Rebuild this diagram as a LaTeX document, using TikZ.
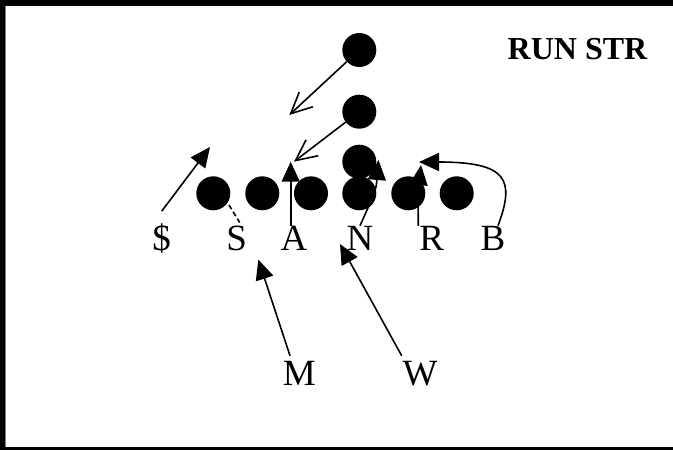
\documentclass[tikz,border=0pt]{standalone}
\usepackage{fontspec}
\setmainfont{Liberation Serif}
\usetikzlibrary{arrows.meta}
\begin{document}
\begin{tikzpicture}[x=1pt,y=-1pt,
  player/.style={circle,fill=black,minimum size=34pt,inner sep=0pt},
  lbl/.style={inner sep=0pt,outer sep=0pt,anchor=base,font=\fontsize{37}{40}\selectfont},
  titletext/.style={inner sep=0pt,anchor=base,font=\fontsize{32}{36}\selectfont\bfseries},
  solidarrow/.style={line width=1.6pt,-{Triangle[length=20pt,width=18pt]}},
  openarrow/.style={line width=1.6pt,-{Straight Barb[length=21pt,width=20pt]}},
  route/.style={line width=1.6pt}]
\useasboundingbox (0,0) rectangle (673,450);
% frame
\fill[black] (0,0) rectangle (4.5,450);
\fill[black] (0,0) rectangle (673,6);
\fill[black] (0,447) rectangle (673,450);
\draw[gray,line width=1pt] (5,6) -- (5,447);
% title
\node[titletext] (title) at (577.5,59) {RUN STR};
% players
\node[player] (t1) at (359.3,50) {};
\node[player] (t2) at (359.3,111.7) {};
\node[player] (t3) at (359.3,161.7) {};
\node[player] (c1) at (213.3,193.3) {};
\node[player] (c2) at (262.3,193.3) {};
\node[player] (c3) at (311,193.3) {};
\node[player] (c4) at (359.3,193.3) {};
\node[player] (c5) at (408.3,193.3) {};
\node[player] (c6) at (456.7,193.3) {};
% labels
\node[lbl] (dollar) at (161.7,250) {\$};
\node[lbl] (S) at (236.7,250) {S};
\node[lbl] (A) at (294,250) {A};
\node[lbl] (N) at (360,250) {N};
\node[lbl] (R) at (431.7,250) {R};
\node[lbl] (B) at (493,250) {B};
\node[lbl] (M) at (299.3,385) {M};
\node[lbl] (W) at (420,385) {W};
% free ends
\coordinate (tip1) at (289.3,115);
\coordinate (tip2) at (294,161.7);
\coordinate (tipD) at (210,147);
\coordinate (sdash) at (229,205);
\coordinate (tipA) at (290.7,161.7);
\coordinate (tipN) at (378.5,160);
\coordinate (tipR) at (421,165);
\coordinate (tipB) at (419,162);
\coordinate (tipM) at (258.3,259.5);
\coordinate (tipW) at (340,244);
% connectors
\draw[openarrow] (t1) -- (tip1);
\draw[openarrow] (t2) -- (tip2);
\draw[solidarrow] ([yshift=12pt]dollar.north) -- (tipD);
\draw[route,dash pattern=on 5pt off 3pt] (sdash) -- ([xshift=3pt,yshift=3pt]S.north);
\draw[solidarrow] ([xshift=-3.3pt]A.north) -- (tipA);
\draw[solidarrow] (N.north) .. controls (376,190) .. (tipN);
\draw[solidarrow] ([xshift=-13.4pt]R.north) .. controls (418,190) .. (tipR);
\draw[solidarrow] ([xshift=5pt]B.north) .. controls (515,180) and (508,162) .. (tipB);
\draw[solidarrow] ([xshift=-9.3pt,yshift=5pt]M.north) -- (tipM);
\draw[solidarrow] ([xshift=-18.3pt,yshift=5pt]W.north) -- (tipW);
\end{tikzpicture}
\end{document}
